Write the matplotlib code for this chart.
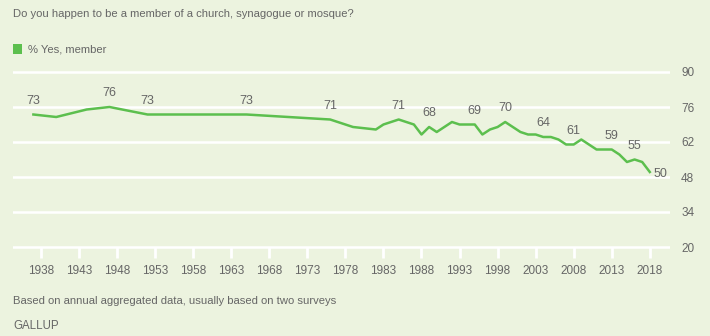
import matplotlib
matplotlib.use("Agg")
import matplotlib.pyplot as plt
from matplotlib.patches import Rectangle

# Gallup church membership, % yes
years = [1937, 1940, 1944, 1947, 1952, 1965, 1976, 1979, 1982, 1983, 1985,
         1987, 1988, 1989, 1990, 1992, 1993, 1995, 1996, 1997, 1998, 1999,
         2000, 2001, 2002, 2003, 2004, 2005, 2006, 2007, 2008, 2009, 2010,
         2011, 2012, 2013, 2014, 2015, 2016, 2017, 2018]
members = [73, 72, 75, 76, 73, 73, 71, 68, 67, 69, 71,
           69, 65, 68, 66, 70, 69, 69, 65, 67, 68, 70,
           68, 66, 65, 65, 64, 64, 63, 61, 61, 63, 61,
           59, 59, 59, 57, 54, 55, 54, 50]

# years that carry a value label
label_years = [1937, 1947, 1952, 1965, 1976, 1985, 1989, 1995, 1999, 2004,
               2008, 2013, 2016]
last_year = 2018

x_ticks = list(range(1938, 2019, 5))
y_ticks = [20, 34, 48, 62, 76, 90]

BG = '#ECF3DF'
GREEN = '#5CBF4E'
TEXT = '#666666'
FONT = ['Liberation Sans', 'DejaVu Sans']

plt.rcParams['font.family'] = FONT

fig = plt.figure(figsize=(7.1, 3.36), dpi=100, facecolor=BG)
W, H = 710, 336
# axes placed in pixel terms: x 13..670, y 72..247 for 90..20
left, right = 13 / W, 670 / W
ax = fig.add_axes([left, 1 - 249.5 / H, right - left, (249.5 - 69.5) / H])
ax.set_facecolor(BG)

x0 = 1938 - 28 / 7.61
x1 = 1938 + 629 / 7.61
ax.set_xlim(x0, x1)
ax.set_ylim(19, 91)

for v in y_ticks:
    ax.axhline(v, color='white', linewidth=1.8, zorder=1)

ax.plot(years, members, color=GREEN, linewidth=1.8, zorder=3,
        solid_joinstyle='round')

lookup = dict(zip(years, members))
for yr in label_years:
    ax.annotate(str(lookup[yr]), (yr, lookup[yr]), xytext=(0, 5.5),
                textcoords='offset points', ha='center', va='bottom',
                fontsize=9, color=TEXT, zorder=4)
ax.annotate(str(lookup[last_year]), (last_year, lookup[last_year]),
            xytext=(3, -1.5), textcoords='offset points', ha='left',
            va='center', fontsize=9, color=TEXT, zorder=4)

for s in ax.spines.values():
    s.set_visible(False)
# ticks hang from the 20 gridline
ax.spines['bottom'].set_position(('data', 20))

ax.set_xticks(x_ticks)
ax.set_xticklabels([str(t) for t in x_ticks])
ax.tick_params(axis='x', direction='out', color='white', length=8, width=2,
               labelcolor=TEXT, labelsize=8.5, pad=5)
ax.set_yticks(y_ticks)
ax.yaxis.tick_right()
ax.tick_params(axis='y', length=0, labelcolor=TEXT, labelsize=8.5, pad=8)

fig.text(13 / W, 1 - 14 / H, 'Do you happen to be a member of a church, synagogue or mosque?',
         fontsize=8.1, color=TEXT, va='center', ha='left')
fig.patches.append(Rectangle((12.5 / W, 1 - 53.5 / H), 9 / W, 9 / H,
                             transform=fig.transFigure, facecolor=GREEN,
                             edgecolor='none'))
fig.text(28 / W, 1 - 49 / H, '% Yes, member', fontsize=8.1, color=TEXT,
         va='center', ha='left')
fig.text(13 / W, 1 - 301 / H,
         'Based on annual aggregated data, usually based on two surveys',
         fontsize=8.1, color=TEXT, va='center', ha='left',
         family=['Liberation Sans Narrow', 'Liberation Sans', 'DejaVu Sans'])
fig.text(13 / W, 1 - 326 / H, 'GALLUP', fontsize=8.3, color=TEXT,
         va='center', ha='left')

fig.savefig('out.png', dpi=100, facecolor=BG)
